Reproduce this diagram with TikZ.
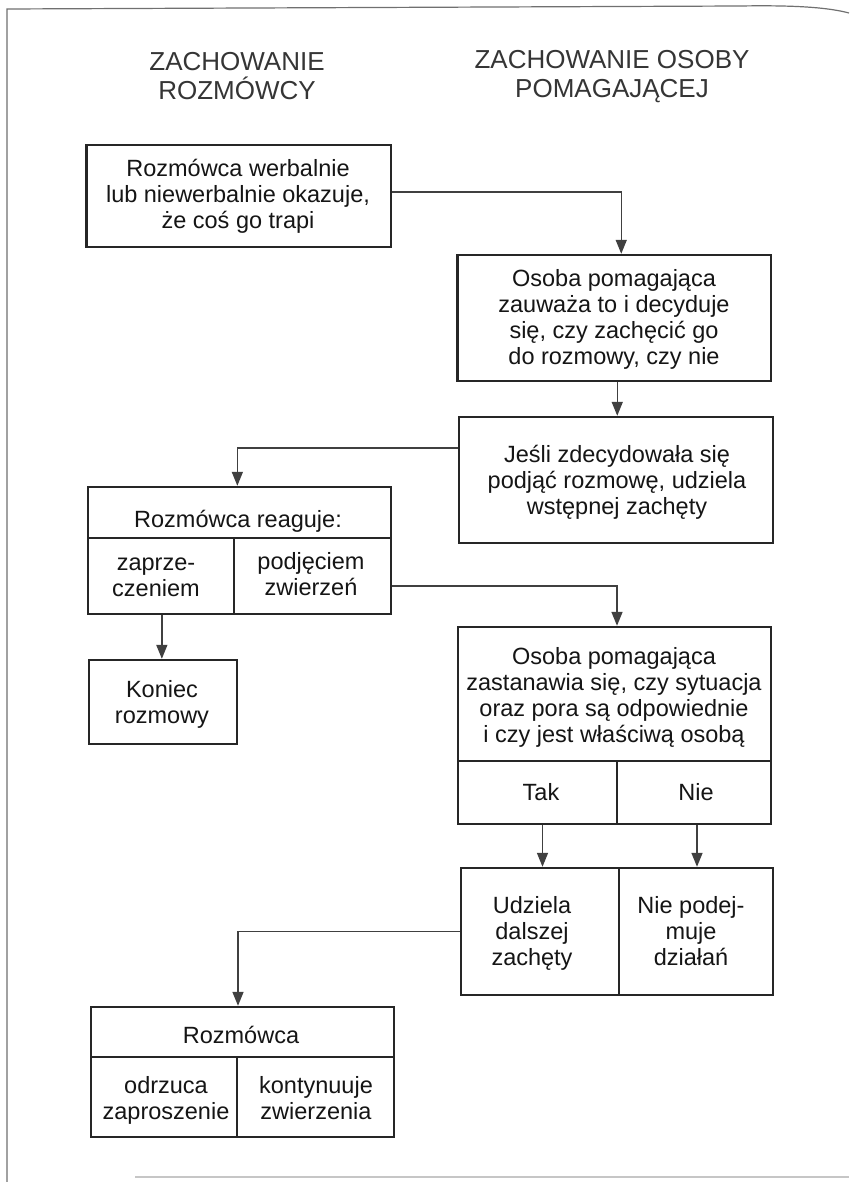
\documentclass[tikz,border=0pt]{standalone}
\usepackage{fontspec}
\setmainfont{Liberation Sans}
\usetikzlibrary{arrows.meta,fit,calc}
\definecolor{ink}{HTML}{151515}
\definecolor{headc}{HTML}{353535}
\definecolor{linec}{HTML}{262626}
\definecolor{arrc}{HTML}{404040}
\definecolor{framec}{HTML}{707070}
\newcommand\fsA{\rule{0pt}{23pt}}
\newcommand\fsB{\rule{0pt}{25pt}}
\setlength{\lineskiplimit}{-100pt}
\begin{document}
\begin{tikzpicture}[x=1pt,y=-1pt,
 box/.style={draw=linec, line width=2.4pt, inner sep=0pt, rectangle},
 txt/.style={anchor=north, inner sep=0pt, align=center, text=ink, font=\fontsize{23.5}{26}\selectfont},
 head/.style={anchor=north, inner sep=0pt, align=center, text=headc, font=\fontsize{26}{29}\selectfont},
 arr/.style={draw=arrc, line width=1.5pt, -{Triangle[length=14pt,width=11pt]}},
 frame/.style={draw=framec, line width=1.2pt}]
\fill[white] (0,0) rectangle (849,1182);
\useasboundingbox (0,0) rectangle (849,1182);
% page frame
\draw[frame] (7,1182) -- (7,9) -- (740,6) .. controls (800,5) and (830,8) .. (849,13);
\draw[draw=gray!45, line width=1.5pt] (135,1177) -- (849,1177);
% headings
\node[head] (h1) at (237,45) {\fsB ZACHOWANIE\\ROZMÓWCY};
\node[head] (h2) at (612,43) {\fsB ZACHOWANIE OSOBY\\POMAGAJĄCEJ};
% boxes
\node[box, fit={(86.6,145) (391,247)}] (b1) {};
\node[box, fit={(457.5,255) (771,381)}] (b2) {};
\node[box, fit={(459,417) (773,543)}] (b3) {};
\node[box, fit={(87.7,487) (391,538)}] (b4h) {};
\node[box, fit={(87.7,538) (234,614)}] (b4a) {};
\node[box, fit={(234,538) (391,614)}] (b4b) {};
\node[box, fit={(89,660) (237,744)}] (kon) {};
\node[box, fit={(458,627) (771,761)}] (b6) {};
\node[box, fit={(458,761) (617,824)}] (tak) {};
\node[box, fit={(617,761) (771,824)}] (nie) {};
\node[box, fit={(461,868) (619,995)}] (b7a) {};
\node[box, fit={(619,868) (773,995)}] (b7b) {};
\node[box, fit={(91,1007) (394,1057)}] (b8h) {};
\node[box, fit={(91,1057) (237,1137)}] (b8a) {};
\node[box, fit={(237,1057) (394,1137)}] (b8b) {};
% texts
\node[txt] (t1) at (238,153) {\fsA Rozmówca werbalnie\\lub niewerbalnie okazuje,\\że coś go trapi};
\node[txt] (t2) at (614,263) {\fsA Osoba pomagająca\\zauważa to i decyduje\\się, czy zachęcić go\\do rozmowy, czy nie};
\node[txt] (t3) at (617,439) {\fsA Jeśli zdecydowała się\\podjąć rozmowę, udziela\\wstępnej zachęty};
\node[txt] (t4h) at (238,504) {\fsA Rozmówca reaguje:};
\node[txt] (t4a) at (156,547) {\fsA zaprze-\\czeniem};
\node[txt] (t4b) at (311,546) {\fsA podjęciem\\zwierzeń};
\node[txt] (tk) at (162,674) {\fsA Koniec\\rozmowy};
\node[txt] (t6) at (614,641) {\fsA Osoba pomagająca\\zastanawia się, czy sytuacja\\oraz pora są odpowiednie\\i czy jest właściwą osobą};
\node[txt] (ttak) at (541,777) {\fsA Tak};
\node[txt] (tnie) at (696,777) {\fsA Nie};
\node[txt] (t7a) at (532,890) {\fsA Udziela\\dalszej\\zachęty};
\node[txt] (t7b) at (691,890) {\fsA Nie podej-\\muje\\działań};
\node[txt] (t8h) at (241,1020) {\fsA Rozmówca};
\node[txt] (t8a) at (166,1070) {\fsA odrzuca\\zaproszenie};
\node[txt] (t8b) at (316,1070) {\fsA kontynuuje\\zwierzenia};
% connectors
\draw[arr] ([yshift=4pt]b1.east) -| ([xshift=7pt]b2.north);
\draw[arr] ([xshift=3pt]b2.south) -- ([xshift=3pt]b2.south |- b3.north);
\draw[arr] ([yshift=32pt]b3.west) -| ([xshift=-2pt]b4h.north);
\draw[arr] ([yshift=-10pt]b4b.east) -| ([xshift=2.5pt]b6.north);
\draw[arr] ([xshift=1pt]b4a.south) -- ([xshift=1pt]b4a.south |- kon.north);
\draw[arr] ([xshift=5pt]tak.south) -- ([xshift=5pt]tak.south |- b7a.north);
\draw[arr] ([xshift=3pt]nie.south) -- ([xshift=3pt]nie.south |- b7b.north);
\draw[arr] (b7a.west) -| ([xshift=-4.5pt]b8h.north);
\end{tikzpicture}
\end{document}
